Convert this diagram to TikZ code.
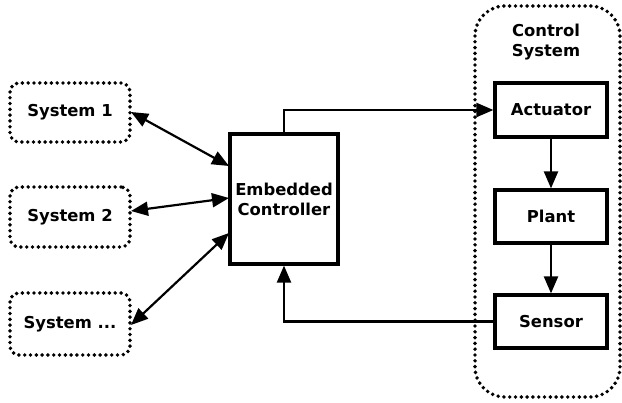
\documentclass[tikz,border=0pt]{standalone}
\usepackage{fontspec}
\setmainfont{DejaVu Sans}
\usetikzlibrary{arrows.meta}
\begin{document}
\begin{tikzpicture}[x=1pt,y=-1pt,
  every node/.style={font=\bfseries\fontsize{16.4}{20}\selectfont, align=center, inner sep=0pt},
  sysbox/.style={draw, line width=3.9pt, dash pattern=on 0pt off 5.8pt, line cap=round, rounded corners=9pt},
  block/.style={draw, line width=3.2pt},
  link/.style={line width=2.2pt, -{Triangle[length=17pt,width=14pt]}},
  both/.style={line width=2.2pt, {Triangle[length=17pt,width=14pt]}-{Triangle[length=17pt,width=14pt]}}]
  \useasboundingbox (0,0) rectangle (622,403);

  % control system enclosure
  \draw[sysbox, rounded corners=30pt] (475,6) rectangle (620,397);
  \node (cs) at (546,42) {Control\\System};

  % external systems
  \node[sysbox, minimum width=120pt, minimum height=59pt] (s1) at (70,112.5) {System 1};
  \node[sysbox, minimum width=120pt, minimum height=60pt] (s2) at (70,217) {System 2};
  \node[sysbox, minimum width=120pt, minimum height=62pt] (s3) at (70,324) {System ...};

  % controller and plant loop
  \node[block, minimum width=108pt, minimum height=130pt] (ec) at (284,199) {Embedded\\Controller};
  \node[block, minimum width=112pt, minimum height=54pt] (act) at (551,110) {Actuator};
  \node[block, minimum width=112pt, minimum height=53pt] (plant) at (551,216.5) {Plant};
  \node[block, minimum width=112pt, minimum height=53pt] (sen) at (551,321.5) {Sensor};

  \coordinate (ecin1) at (229,166);
  \coordinate (ecin2) at (229,198);
  \coordinate (ecin3) at (229,233);
  \coordinate (s1p) at (131,112);
  \coordinate (s2p) at (131,211);
  \coordinate (s3p) at (131,325);
  \draw[both] (s1p) -- (ecin1);
  \draw[both] (s2p) -- (ecin2);
  \draw[both] (s3p) -- (ecin3);

  \draw[link] (ec.north) |- (act.west);
  \draw[link] (act) -- (plant);
  \draw[link] (plant) -- (sen);
  \draw[link] (sen.west) -| (ec.south);
\end{tikzpicture}
\end{document}
